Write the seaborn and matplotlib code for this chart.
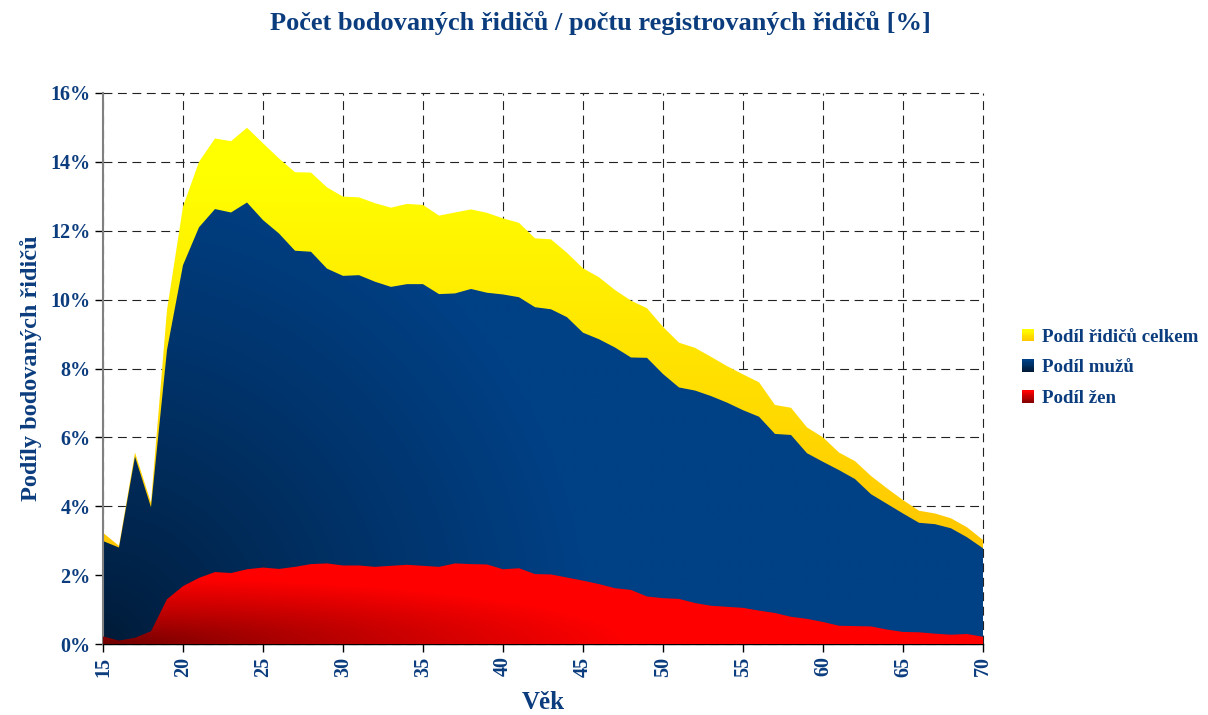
import numpy as np
import matplotlib
matplotlib.use('Agg')
import matplotlib.pyplot as plt
import seaborn as sns
from matplotlib.legend_handler import HandlerBase
from matplotlib.patches import Rectangle
from matplotlib.colors import to_rgb

# values (share of drivers with points, in %)
ages = list(range(15, 71))

podil_celkem = [3.23, 2.85, 5.56, 4.10, 9.70, 12.70, 14.00, 14.68, 14.60, 14.99,
                14.54, 14.10, 13.70, 13.69, 13.26, 12.99, 12.97, 12.80, 12.67, 12.78,
                12.75, 12.44, 12.53, 12.62, 12.52, 12.36, 12.23, 11.78, 11.75, 11.36,
                10.91, 10.65, 10.28, 9.97, 9.75, 9.21, 8.75, 8.60, 8.34, 8.07,
                7.83, 7.60, 6.94, 6.86, 6.29, 6.00, 5.56, 5.31, 4.88, 4.52,
                4.18, 3.87, 3.79, 3.65, 3.39, 3.02]

podil_muzu = [2.99, 2.80, 5.44, 3.97, 8.54, 11.00, 12.10, 12.63, 12.53, 12.82,
              12.31, 11.92, 11.42, 11.39, 10.90, 10.69, 10.71, 10.52, 10.37, 10.45,
              10.45, 10.16, 10.18, 10.31, 10.20, 10.15, 10.07, 9.78, 9.72, 9.49,
              9.04, 8.85, 8.61, 8.32, 8.31, 7.84, 7.45, 7.36, 7.20, 7.01,
              6.79, 6.60, 6.10, 6.07, 5.54, 5.29, 5.05, 4.79, 4.35, 4.07,
              3.79, 3.52, 3.48, 3.36, 3.10, 2.78]

podil_zen = [0.22, 0.10, 0.18, 0.37, 1.30, 1.68, 1.92, 2.09, 2.06, 2.17,
             2.22, 2.18, 2.24, 2.32, 2.34, 2.28, 2.28, 2.24, 2.27, 2.30,
             2.27, 2.24, 2.34, 2.32, 2.31, 2.17, 2.20, 2.03, 2.02, 1.93,
             1.84, 1.74, 1.62, 1.57, 1.38, 1.33, 1.31, 1.19, 1.11, 1.08,
             1.05, 0.97, 0.90, 0.79, 0.73, 0.64, 0.53, 0.52, 0.51, 0.42,
             0.35, 0.34, 0.30, 0.27, 0.29, 0.21]

x_ticks = list(range(15, 71, 5))
y_ticks = list(range(0, 17, 2))

title = "Počet bodovaných řidičů / počtu registrovaných řidičů [%]"
x_label = "Věk"
y_label = "Podíly bodovaných řidičů"
legend_labels = ["Podíl řidičů celkem", "Podíl mužů", "Podíl žen"]

sns.set_theme(style='white')
plt.rcParams['font.family'] = ['Liberation Serif', 'DejaVu Serif']
text_col = '#0B3C7D'


def blend(c0, c1, t):
    c0 = np.array(to_rgb(c0))
    c1 = np.array(to_rgb(c1))
    return c0 + (c1 - c0) * np.asarray(t)[..., None]


class GradientHandler(HandlerBase):
    # small legend square with a vertical gradient
    def __init__(self, c0, c1):
        super().__init__()
        self.c0, self.c1 = c0, c1

    def create_artists(self, legend, orig_handle, xdescent, ydescent,
                       width, height, fontsize, trans):
        n = 10
        parts = []
        for i in range(n):
            col = blend(self.c0, self.c1, i / (n - 1))
            parts.append(Rectangle((-xdescent, -ydescent + height * i / n), width, height / n + 0.2,
                                   facecolor=col, edgecolor='none', transform=trans))
        return parts


fig = plt.figure(figsize=(12.08, 7.15), dpi=100)
ax = fig.add_axes([103 / 1208, 1 - 644 / 715, 880 / 1208, 551 / 715])

# gradient images spanning the plot area, clipped to each area
u = np.linspace(0, 1, 400)[None, :]
v = np.linspace(0, 1, 300)[:, None]

t_yellow = np.clip((v - 0.2) / 0.65, 0, 1) * np.ones_like(u)
img_yellow = blend('#FFC800', '#FFFF00', t_yellow)

t_blue = np.clip(np.hypot(u / 0.55, v / 0.9), 0, 1) ** 0.8
img_blue = blend('#001A36', '#004085', t_blue)

t_red = np.clip(np.hypot(u / 0.6, v / 0.12), 0, 1) ** 0.8
img_red = blend('#6E0000', '#FF0000', t_red)


def gradient_area(y, img, z):
    area = ax.fill_between(ages, y, 0, color='none', lw=0, zorder=z)
    im = ax.imshow(img, extent=[15, 70, 0, 16], origin='lower', aspect='auto',
                   interpolation='bilinear', zorder=z)
    im.set_clip_path(area.get_paths()[0], transform=ax.transData)


gradient_area(podil_celkem, img_yellow, 1)
gradient_area(podil_muzu, img_blue, 2)
gradient_area(podil_zen, img_red, 3)

ax.set_xlim(15, 70)
ax.set_ylim(0, 16)
ax.set_xticks(x_ticks)
ax.set_xticklabels([str(a) for a in x_ticks], rotation=90)
ax.set_yticks(y_ticks)
ax.set_yticklabels([f'{t}%' for t in y_ticks])
ax.tick_params(direction='out', length=6, width=1, color='black', labelsize=14.5,
               labelcolor=text_col, pad=3, left=True, bottom=True)
for lab in ax.get_xticklabels() + ax.get_yticklabels():
    lab.set_fontweight('bold')

ax.grid(True, color='#222222', ls=(0, (8, 5)), lw=0.8)
ax.set_axisbelow(True)
# keep the grid lines at 16 % and 70 visible as the frame
for gl in ax.get_xgridlines() + ax.get_ygridlines():
    gl.set_clip_on(False)
for s in ['top', 'right']:
    ax.spines[s].set_visible(False)
ax.spines['left'].set_color('#808080')
ax.spines['left'].set_linewidth(1.5)
ax.spines['bottom'].set_color('black')
ax.spines['bottom'].set_linewidth(1)

ax.set_xlabel(x_label, fontsize=18, fontweight='bold', color=text_col, labelpad=10)
ax.set_ylabel(y_label, fontsize=17.5, fontweight='bold', color=text_col, labelpad=6)
fig.text(0.497, 1 - 23 / 715, title, ha='center', va='center', fontsize=19,
         fontweight='bold', color=text_col)

handles = [Rectangle((0, 0), 1, 1) for _ in legend_labels]
grads = [('#FFC800', '#FFFF00'), ('#001A36', '#004085'), ('#8A0000', '#FF0000')]
leg = fig.legend(handles, legend_labels,
                 handler_map={h: GradientHandler(*g) for h, g in zip(handles, grads)},
                 loc='center left', bbox_to_anchor=(1022 / 1208, 1 - 368 / 715),
                 frameon=False, borderpad=0, borderaxespad=0,
                 handlelength=0.62, handleheight=0.62,
                 handletextpad=0.42, labelspacing=0.72,
                 prop={'weight': 'bold', 'size': 13.6})
for t in leg.get_texts():
    t.set_color(text_col)

fig.savefig('out.png', dpi=100)
